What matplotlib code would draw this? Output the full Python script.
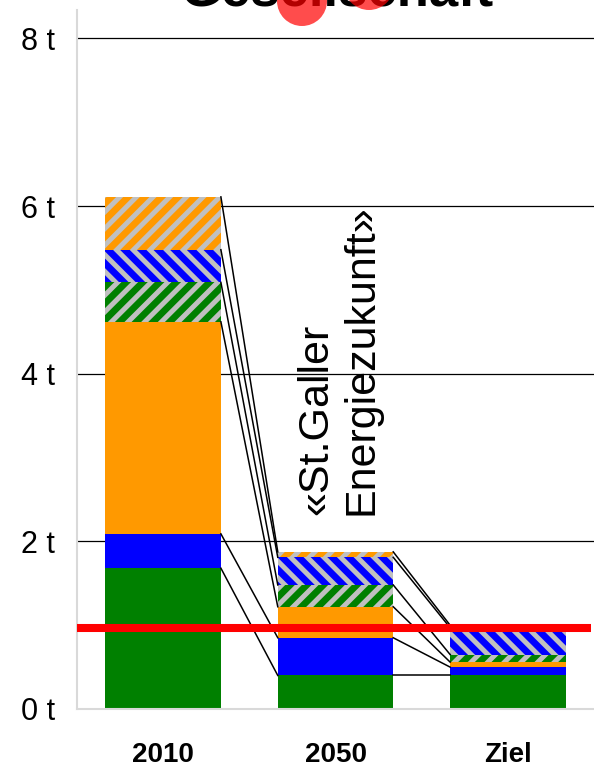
import matplotlib.pyplot as plt
from matplotlib.patches import Ellipse
import numpy as np

# CO2-Werte pro Person (t), gestapelt nach Bereich
kategorien = ['2010', '2050', 'Ziel']
gruen = [1.68, 0.40, 0.40]
blau = [0.41, 0.45, 0.10]
orange = [2.53, 0.37, 0.06]
gruen_schraffiert = [0.47, 0.26, 0.09]
blau_schraffiert = [0.39, 0.33, 0.32]
orange_schraffiert = [0.63, 0.065, 0.03]
zielwert = 0.97
y_ticks = [0, 2, 4, 6, 8]
y_labels = ['0 t', '2 t', '4 t', '6 t', '8 t']

plt.rcParams['font.family'] = ['Liberation Sans', 'DejaVu Sans']
plt.rcParams['hatch.linewidth'] = 3.6

fig = plt.figure(figsize=(5.94, 7.71), dpi=100)
ax = fig.add_axes([77/594, 62/771, 1 - 77/594, 699/771])
ax.set_xlim(-0.5, 2.5)
ax.set_ylim(0, 8.34)

# Gitterlinien
for v in y_ticks[1:]:
    ax.axhline(v, color='black', lw=0.9, zorder=1)

segmente = [
    (gruen, '#008000', None),
    (blau, '#0000FF', None),
    (orange, '#FF9900', None),
    (gruen_schraffiert, '#008000', '//'),
    (blau_schraffiert, '#0000FF', '\\\\'),
    (orange_schraffiert, '#FF9900', '//'),
]

x = np.arange(len(kategorien))
w = 0.67
unten = np.zeros(len(kategorien))
oben = []
for werte, farbe, muster in segmente:
    ax.bar(x, werte, w, bottom=unten, color=farbe,
           edgecolor='#C0C0C0' if muster else farbe, linewidth=0,
           hatch=muster, zorder=2)
    unten = unten + np.array(werte)
    oben.append(unten.copy())

# Verbindungslinien zwischen den Säulen
for t in oben:
    for i in range(len(x) - 1):
        ax.plot([x[i] + w/2, x[i+1] - w/2], [t[i], t[i+1]],
                color='black', lw=1.1, zorder=3)

# Zielwert
ax.plot([-0.5, 2.48], [zielwert, zielwert], color='red', lw=5.8,
        solid_capstyle='butt', zorder=5)

ax.text(1.02, 2.32, '«St.Galler\nEnergiezukunft»', rotation=90,
        ha='center', va='bottom', multialignment='left', fontsize=31,
        linespacing=1.15, zorder=4)

ax.set_yticks(y_ticks)
ax.set_yticklabels(y_labels, fontsize=22)
ax.set_xticks(x)
ax.set_xticklabels(kategorien, fontsize=20, fontweight='bold')
ax.tick_params(axis='y', length=0, pad=16)
ax.tick_params(axis='x', length=0, pad=24)

for s in ['top', 'right']:
    ax.spines[s].set_visible(False)
for s in ['left', 'bottom']:
    ax.spines[s].set_color('#D9D9D9')
    ax.spines[s].set_linewidth(1.5)

# Titel (oben angeschnitten)
fig.text(337/594, 1 - 5/771, 'Gesellschaft', fontsize=38, fontweight='bold',
         ha='center', va='baseline')
for cx, cy in [(302, 1), (369, -15)]:
    fig.add_artist(Ellipse((cx/594, 1 - cy/771), 50/594, 50/771,
                           transform=fig.transFigure, color='red',
                           alpha=0.7, lw=0, zorder=10))

fig.savefig('out.png', dpi=100)
